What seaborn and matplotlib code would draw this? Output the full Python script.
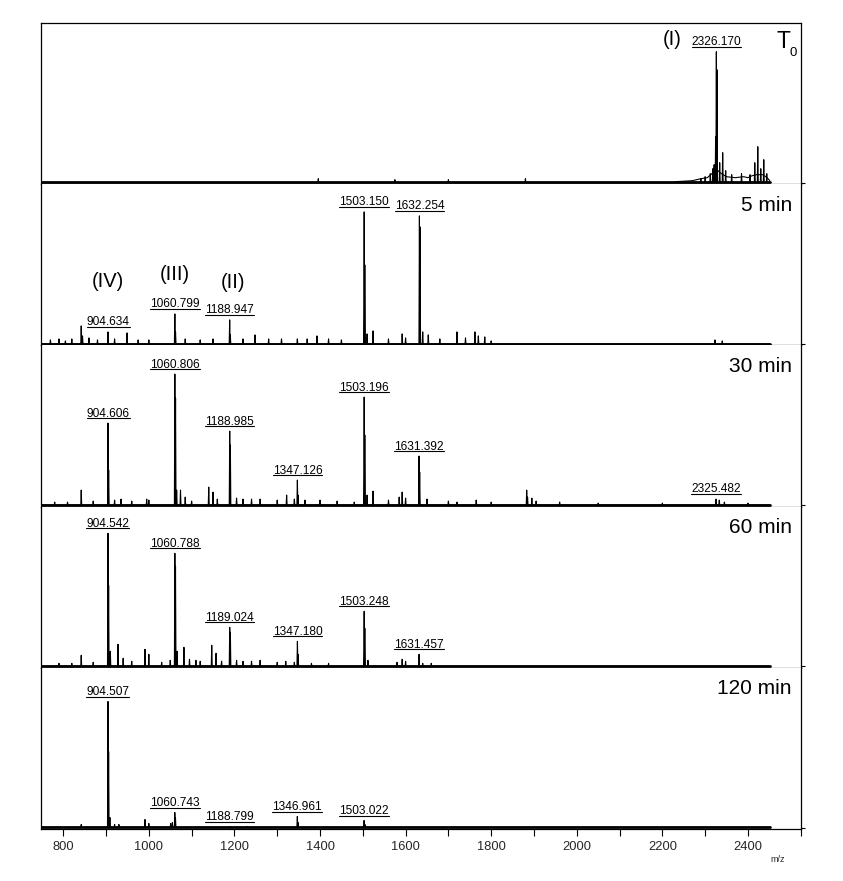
import numpy as np
import pandas as pd
import matplotlib
matplotlib.use("Agg")
import matplotlib.pyplot as plt
import seaborn as sns
from matplotlib.ticker import FixedLocator

# ---------------- data (m/z, intensity in arbitrary units) ----------------
PANEL_NAMES = ["T0", "5 min", "30 min", "60 min", "120 min"]
MZ_START, MZ_END = 748, 2451

T0_MZ = [1396, 1575, 1700, 1880, 2290, 2300, 2312, 2318, 2321, 2324.5, 2326.2, 2327.6,
         2334, 2341, 2348, 2362, 2385, 2405, 2416, 2423, 2430, 2437, 2444]
T0_INT = [4, 3, 3, 4, 4, 6, 9, 14, 18, 46, 131, 113,
          20, 30, 12, 8, 9, 8, 20, 36, 14, 23, 9]
T0_BG_MZ = [2230, 2270, 2290, 2305, 2316, 2322, 2330, 2338, 2350, 2370, 2390, 2400, 2410, 2420, 2435, 2445, 2451]
T0_BG_INT = [1, 2, 4, 5, 9, 13, 12, 9, 6, 5, 6, 5, 7, 8, 8, 5, 2]

M5_MZ = [770, 790, 805, 820, 842, 845, 860, 880, 904.6, 920, 949, 975, 1000, 1060.8, 1062.4,
         1085, 1120, 1150, 1188.9, 1190.4, 1220, 1248, 1280, 1310, 1347, 1370, 1393, 1420,
         1450, 1503.2, 1504.7, 1510, 1524, 1560, 1592, 1600, 1632.3, 1633.8, 1640, 1653,
         1680, 1720, 1740, 1762, 1770, 1785, 1800, 2323, 2340]
M5_INT = [4, 5, 3, 5, 18, 8, 6, 4, 12, 5, 11, 4, 4, 30, 12,
          5, 4, 5, 24, 9, 5, 9, 5, 5, 5, 5, 8, 5,
          4, 132, 79, 10, 13, 5, 10, 6, 128, 117, 12, 9,
          5, 12, 6, 12, 8, 7, 3, 4, 3]

M30_MZ = [780, 810, 842, 870, 904.6, 906.1, 920, 935, 960, 995, 1000, 1060.8, 1062.4,
          1065, 1074, 1085, 1100, 1140, 1150, 1160, 1189.0, 1190.5, 1205, 1220, 1240,
          1260, 1300, 1322, 1340, 1347.1, 1348.8, 1365, 1400, 1440, 1480, 1503.2, 1504.7,
          1510, 1524, 1560, 1585, 1592, 1600, 1631.4, 1632.9, 1650, 1700, 1720, 1765,
          1800, 1883, 1885, 1895, 1905, 1960, 2050, 2200, 2325.5, 2333, 2345, 2400]
M30_INT = [3, 3, 15, 4, 82, 35, 5, 6, 4, 6, 5, 131, 107,
           15, 15, 8, 4, 18, 13, 6, 74, 60, 7, 6, 6,
           6, 5, 10, 6, 25, 10, 5, 5, 4, 3, 108, 70,
           10, 14, 5, 8, 13, 7, 49, 33, 6, 4, 3, 5,
           3, 15, 8, 7, 4, 3, 2, 2, 6, 5, 3, 2]

M60_MZ = [790, 820, 842, 870, 904.5, 906.0, 910, 928, 940, 960, 991, 1000, 1030, 1050,
          1060.8, 1062.3, 1066, 1082, 1095, 1110, 1120, 1147, 1157, 1170, 1189.0, 1190.5,
          1205, 1220, 1240, 1260, 1300, 1320, 1340, 1347.2, 1348.9, 1380, 1420, 1503.2,
          1504.7, 1512, 1580, 1592, 1600, 1631.5, 1640, 1660]
M60_INT = [3, 3, 11, 4, 133, 81, 15, 22, 8, 5, 17, 12, 4, 6,
           113, 100, 15, 19, 7, 6, 5, 21, 13, 5, 39, 34,
           6, 5, 5, 6, 4, 5, 4, 25, 12, 3, 3, 55,
           38, 6, 4, 7, 5, 12, 3, 3]

M120_MZ = [842, 904.5, 906.0, 909, 920, 930, 991, 1000, 1051, 1055, 1060.7, 1062.2,
           1188.8, 1230, 1347.0, 1348.5, 1503.0, 1505]
M120_INT = [3, 126, 76, 10, 3, 3, 8, 4, 4, 5, 15, 10,
            1, 1, 11, 5, 7, 3]

T0_LABELS = ["2326.170"]
M5_LABELS = ["904.634", "1060.799", "1188.947", "1503.150", "1632.254"]
M30_LABELS = ["904.606", "1060.806", "1188.985", "1347.126", "1503.196", "1631.392", "2325.482"]
M60_LABELS = ["904.542", "1060.788", "1189.024", "1347.180", "1503.248", "1631.457"]
M120_LABELS = ["904.507", "1060.743", "1188.799", "1346.961", "1503.022"]

X_TICKS = [800, 1000, 1200, 1400, 1600, 1800, 2000, 2200, 2400]
X_MINOR = [900, 1100, 1300, 1500, 1700, 1900, 2100, 2300]

PANELS = [
    (T0_MZ, T0_INT, T0_LABELS),
    (M5_MZ, M5_INT, M5_LABELS),
    (M30_MZ, M30_INT, M30_LABELS),
    (M60_MZ, M60_INT, M60_LABELS),
    (M120_MZ, M120_INT, M120_LABELS),
]

# ---------------- styling ----------------
sns.set_theme(style="white")
plt.rcParams["font.family"] = ["Liberation Sans", "DejaVu Sans"]

W, H = 843, 881
fig = plt.figure(figsize=(W / 100, H / 100), dpi=100)
left, right, top, bottom = 41 / W, 801 / W, 1 - 23 / H, 1 - 829 / H
ph = (top - bottom) / 5
axes = []
for i in range(5):
    ax = fig.add_axes([left, top - (i + 1) * ph, right - left, ph])
    axes.append(ax)

XLIM = (748, 2524)
YLIM = (-1.5, 159.7)
HALF = 1.1

def stick_trace(mz, inten):
    order = np.argsort(mz)
    xs, ys = [MZ_START], [0.0]
    for k in order:
        m, h = mz[k], inten[k]
        xs += [m - HALF, m, m + HALF]
        ys += [0.0, h, 0.0]
    xs.append(MZ_END)
    ys.append(0.0)
    return pd.DataFrame({"mz": xs, "intensity": ys})

label_items = []
for i, (ax, (mz, inten, labels)) in enumerate(zip(axes, PANELS)):
    df = stick_trace(mz, inten)
    # thick noisy baseline
    sns.lineplot(x=[MZ_START, MZ_END], y=[0.3, 0.3], ax=ax, color="black", lw=2.0)
    if i == 0:
        sns.lineplot(x=T0_BG_MZ, y=T0_BG_INT, ax=ax, color="black", lw=0.8,
                     sort=False, estimator=None)
    sns.lineplot(data=df, x="mz", y="intensity", ax=ax, color="black", lw=0.8,
                 sort=False, estimator=None)
    ax.set_xlim(*XLIM)
    ax.set_ylim(*YLIM)
    ax.set_xlabel("")
    ax.set_ylabel("")
    for s in ax.spines.values():
        s.set_color("black")
        s.set_linewidth(0.9)
    if i > 0:
        ax.spines["top"].set_visible(False)
    ax.set_yticks([0])
    ax.set_yticklabels([])
    ax.tick_params(axis="y", left=False, right=True, length=3, width=0.8,
                   direction="out", color="black")
    if i < 4:
        ax.set_xticks([])
    else:
        ax.set_xticks(X_TICKS)
        ax.set_xticklabels([str(t) for t in X_TICKS], fontsize=9.3)
        ax.xaxis.set_minor_locator(FixedLocator(X_MINOR + [XLIM[1]]))
        ax.tick_params(axis="x", which="both", bottom=True, length=5, width=0.8,
                       direction="out", color="black", pad=4)
    mz_arr = np.array(mz, dtype=float)
    int_arr = np.array(inten, dtype=float)
    for lab in labels:
        m = float(lab)
        near = np.abs(mz_arr - m) < 2.0
        h = int_arr[near].max() if near.any() else 0
        yul = h + 5
        t = ax.text(m, yul + 1.6, lab, ha="center", va="baseline", fontsize=8.6,
                    color="black")
        label_items.append((ax, t, yul))
    # time label
    if i == 0:
        ax.text(0.977, 0.885, "T", transform=ax.transAxes, ha="center", va="center",
                fontsize=16.5, color="black")
        ax.text(0.990, 0.815, "0", transform=ax.transAxes, ha="center", va="center",
                fontsize=9.5, color="black")
    else:
        ax.text(0.988, 0.87, PANEL_NAMES[i], transform=ax.transAxes, ha="right",
                va="center", fontsize=15, color="black")

# roman numerals
axes[0].text(2222, 143, "(I)", ha="center", va="center", fontsize=14.5, color="black")
axes[1].text(904, 62, "(IV)", ha="center", va="center", fontsize=14.5, color="black")
axes[1].text(1061, 69, "(III)", ha="center", va="center", fontsize=14.5, color="black")
axes[1].text(1197, 61, "(II)", ha="center", va="center", fontsize=14.5, color="black")

fig.text(778 / W, 1 - 860 / H, "m/z", ha="center", va="center", fontsize=6.5)

# underline peak labels
fig.canvas.draw()
renderer = fig.canvas.get_renderer()
for ax, t, yul in label_items:
    bb = t.get_window_extent(renderer)
    inv = ax.transData.inverted()
    x0 = inv.transform((bb.x0, bb.y0))[0]
    x1 = inv.transform((bb.x1, bb.y0))[0]
    ax.plot([x0, x1], [yul, yul], color="black", lw=0.8, clip_on=False)

fig.savefig("out.png", dpi=100, facecolor="white")
